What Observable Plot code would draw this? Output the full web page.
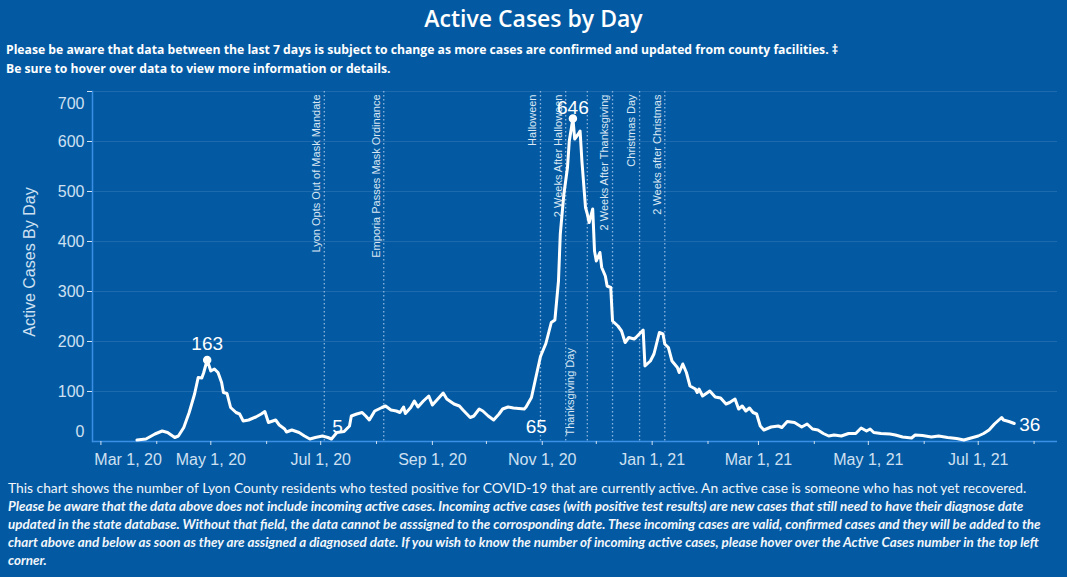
<!DOCTYPE html>
<html>
<head>
<meta charset="utf-8">
<script src="https://cdn.jsdelivr.net/npm/d3@7"></script>
<script src="https://cdn.jsdelivr.net/npm/@observablehq/plot@0.6"></script>
<style>
  html, body { margin: 0; padding: 0; }
  body { background: #035aa3; width: 1067px; height: 577px; overflow: hidden; position: relative; color: #fff; }
  #title { position: absolute; left: 0; top: 0; width: 1067px; height: 36px; line-height: 36px; text-align: center;
           font-family: "Open Sans", sans-serif; font-weight: 600; font-size: 23px; color: #fff; }
  #sub { position: absolute; left: 6px; top: 40px; font-family: "Open Sans", sans-serif; font-weight: 700; font-size: 12.2px;
         line-height: 19px; color: #fff; white-space: nowrap; }
  #chart { position: absolute; left: 0; top: 80px; }
  #ylabel { position: absolute; left: 30px; top: 262px; transform: translate(-50%, -50%) rotate(-90deg);
            font-family: "Liberation Sans", Arial, sans-serif; font-size: 16px; color: #cfe0f1; white-space: nowrap; }
  #foot { position: absolute; left: 8px; top: 479px; font-family: "Lato", sans-serif; font-size: 13.8px; line-height: 18px;
          color: #f2f6fa; white-space: nowrap; }
  #foot .it { font-style: italic; font-weight: 700; font-size: 13.4px; }
</style>
</head>
<body>
<div id="title">Active Cases by Day</div>
<div id="sub">Please be aware that data between the last 7 days is subject to change as more cases are confirmed and updated from county facilities. ‡<br>Be sure to hover over data to view more information or details.</div>
<div id="chart"></div>
<div id="ylabel">Active Cases By Day</div>
<div id="foot">This chart shows the number of Lyon County residents who tested positive for COVID-19 that are currently active. An active case is someone who has not yet recovered.<br><span class="it">Please be aware that the data above does not include incoming active cases. Incoming active cases (with positive test results) are new cases that still need to have their diagnose date<br>updated in the state database. Without that field, the data cannot be asssigned to the corrosponding date. These incoming cases are valid, confirmed cases and they will be added to the<br>chart above and below as soon as they are assigned a diagnosed date. If you wish to know the number of incoming active cases, please hover over the Active Cases number in the top left<br>corner.</span></div>
<script>
// ---- Data ----
const dates = [
  "2020-03-21","2020-03-26","2020-03-31","2020-04-04","2020-04-07","2020-04-11","2020-04-13","2020-04-16","2020-04-19","2020-04-22",
  "2020-04-24","2020-04-26","2020-04-27","2020-04-29","2020-05-01","2020-05-03","2020-05-05","2020-05-07","2020-05-08","2020-05-10",
  "2020-05-12","2020-05-15","2020-05-17","2020-05-19","2020-05-22","2020-05-26","2020-05-29","2020-05-31","2020-06-02","2020-06-06",
  "2020-06-08","2020-06-11","2020-06-12","2020-06-15","2020-06-19","2020-06-22","2020-06-25","2020-06-28","2020-07-02","2020-07-05",
  "2020-07-07","2020-07-10","2020-07-14","2020-07-17","2020-07-18","2020-07-21","2020-07-24","2020-07-26","2020-07-28","2020-07-31",
  "2020-08-04","2020-08-06","2020-08-09","2020-08-12","2020-08-14","2020-08-16","2020-08-17","2020-08-20","2020-08-22","2020-08-24",
  "2020-08-27","2020-08-30","2020-09-01","2020-09-04","2020-09-07","2020-09-09","2020-09-13","2020-09-16","2020-09-18","2020-09-22",
  "2020-09-24","2020-09-27","2020-09-29","2020-10-02","2020-10-05","2020-10-08","2020-10-10","2020-10-13","2020-10-16","2020-10-19",
  "2020-10-22","2020-10-23","2020-10-26","2020-10-28","2020-10-31","2020-11-03","2020-11-06","2020-11-08","2020-11-10","2020-11-11",
  "2020-11-13","2020-11-15","2020-11-16","2020-11-18","2020-11-19","2020-11-21","2020-11-22","2020-11-23","2020-11-25","2020-11-26",
  "2020-11-27","2020-11-29","2020-11-30","2020-12-01","2020-12-03","2020-12-04","2020-12-06","2020-12-07","2020-12-09","2020-12-10",
  "2020-12-13","2020-12-15","2020-12-17","2020-12-19","2020-12-22","2020-12-23","2020-12-27","2020-12-28","2020-12-31","2021-01-02",
  "2021-01-05","2021-01-07","2021-01-08","2021-01-10","2021-01-12","2021-01-15","2021-01-16","2021-01-18","2021-01-20","2021-01-22",
  "2021-01-25","2021-01-26","2021-01-27","2021-01-29","2021-02-02","2021-02-05","2021-02-08","2021-02-11","2021-02-13","2021-02-16",
  "2021-02-18","2021-02-20","2021-02-22","2021-02-24","2021-02-26","2021-02-28","2021-03-02","2021-03-04","2021-03-08","2021-03-12",
  "2021-03-14","2021-03-17","2021-03-21","2021-03-25","2021-03-28","2021-03-31","2021-04-03","2021-04-06","2021-04-09","2021-04-12",
  "2021-04-16","2021-04-20","2021-04-24","2021-04-27","2021-04-30","2021-05-02","2021-05-04","2021-05-08","2021-05-13","2021-05-16",
  "2021-05-20","2021-05-25","2021-05-27","2021-05-31","2021-06-05","2021-06-09","2021-06-14","2021-06-19","2021-06-23","2021-06-27",
  "2021-07-01","2021-07-04","2021-07-07","2021-07-10","2021-07-14","2021-07-15","2021-07-18","2021-07-21"
];
const cases = [
  3, 5, 15, 21, 18, 8, 11, 28, 58, 95,
  128, 127, 137, 163, 141, 145, 138, 118, 98, 96,
  68, 58, 55, 41, 43, 49, 55, 60, 38, 43,
  33, 25, 19, 23, 18, 11, 5, 8, 11, 8,
  5, 18, 20, 31, 51, 55, 58, 51, 43, 61,
  68, 71, 63, 61, 58, 69, 56, 68, 81, 69,
  81, 91, 73, 85, 97, 85, 75, 71, 63, 48,
  51, 65, 61, 51, 43, 55, 65, 69, 67, 66,
  65, 69, 88, 121, 170, 196, 238, 243, 321, 415,
  495, 548, 601, 646, 605, 615, 621, 561, 468, 455,
  438, 465, 381, 361, 378, 348, 331, 311, 308, 241,
  231, 221, 198, 208, 205, 208, 223, 151, 161, 175,
  218, 215, 195, 188, 161, 148, 138, 155, 138, 111,
  105, 98, 105, 91, 101, 89, 87, 75, 78, 85,
  65, 71, 61, 67, 58, 55, 31, 23, 29, 31,
  28, 40, 38, 29, 35, 25, 23, 16, 11, 13,
  11, 16, 16, 27, 21, 25, 18, 16, 15, 13,
  9, 7, 13, 12, 9, 11, 8, 6, 3, 7,
  11, 16, 23, 35, 48, 43, 40, 36
];
const yTicks = [100, 200, 300, 400, 500, 600, 700];
const xMajorTicks = ["2020-03-01","2020-05-01","2020-07-01","2020-09-01","2020-11-01","2021-01-01","2021-03-01","2021-05-01","2021-07-01"];
const xMinorTicks = ["2020-04-01","2020-06-01","2020-08-01","2020-10-01","2020-12-01","2021-02-01","2021-04-01","2021-06-01","2021-08-01"];
const topEventNames = ["Lyon Opts Out of Mask Mandate","Emporia Passes Mask Ordinance","Halloween","2 Weeks After Halloween","2 Weeks After Thanksgiving","Christmas Day","2 Weeks after Christmas"];
const topEventDates = ["2020-07-03","2020-08-05","2020-10-31","2020-11-14","2020-12-10","2020-12-25","2021-01-08"];
const bottomEventNames = ["Thanksgiving Day"];
const bottomEventDates = ["2020-11-26"];
const peakDates = ["2020-04-29","2020-11-18"];
const lowDate = "2020-10-22";
const summerLowDate = "2020-07-07";
const lastDate = "2021-07-21";

// ---- Build tables ----
const series = dates.map((d, i) => ({date: new Date(d), cases: cases[i]}));
const byDate = new Map(series.map(r => [+r.date, r]));
const pick = ds => ds.map(d => byDate.get(+new Date(d)));
const topEvents = topEventNames.map((n, i) => ({name: n, date: new Date(topEventDates[i])}));
const bottomEvents = bottomEventNames.map((n, i) => ({name: n, date: new Date(bottomEventDates[i])}));
const allEventDates = [...topEvents, ...bottomEvents].map(e => e.date);

const fmt = d3.utcFormat("%b %-d, %y");
const firstMajor = new Date(xMajorTicks[0]);
const light = "#cfe0f1";

const chart = Plot.plot({
  width: 1067,
  height: 400,
  marginLeft: 92,
  marginRight: 10,
  marginTop: 11,
  marginBottom: 39,
  style: {background: "transparent", color: light, fontFamily: "'Liberation Sans', Arial, sans-serif", fontSize: "16px"},
  x: {type: "utc", domain: [new Date("2020-02-25T08:00:00Z"), new Date("2021-08-14T00:00:00Z")], axis: null},
  y: {domain: [0, 700], axis: null},
  marks: [
    Plot.gridY(yTicks, {stroke: "#1d6aae", strokeOpacity: 1, strokeWidth: 1}),
    Plot.ruleX(allEventDates, {stroke: "#8db4dc", strokeWidth: 1.3, strokeDasharray: "1.5,2.5"}),
    Plot.ruleY([0], {stroke: "#3a8ee4", strokeWidth: 1.5}),
    Plot.frame({anchor: "left", stroke: "#3a8ee4", strokeWidth: 1.5}),
    // y axis
    Plot.axisY(yTicks, {tickSize: 5, tickPadding: 3, tickFormat: d => d === 700 ? "" : d, label: null, fontSize: 16}),
    Plot.axisY([700], {tickSize: 0, tickPadding: 8, dy: 12, label: null, fontSize: 16}),
    Plot.axisY([0], {tickSize: 0, tickPadding: 8, dy: -10, label: null, fontSize: 16}),
    // x axis
    Plot.axisX(xMajorTicks.map(d => new Date(d)), {tickSize: 4, tickPadding: 8, tickFormat: d => +d === +firstMajor ? "" : fmt(d), label: null, fontSize: 16}),
    Plot.axisX([firstMajor], {tickSize: 0, tickPadding: 12, textAnchor: "start", dx: -6.6, tickFormat: fmt, label: null, fontSize: 16}),
    Plot.axisX(xMinorTicks.map(d => new Date(d)), {tickSize: 3, tickFormat: () => "", label: null}),
    // event labels
    Plot.text(topEvents, {x: "date", frameAnchor: "top", text: "name", rotate: -90, textAnchor: "end", dx: -12, dy: 3, fontSize: 11, fill: "#dbe7f3"}),
    Plot.text(bottomEvents, {x: "date", frameAnchor: "bottom", text: "name", rotate: -90, textAnchor: "start", dx: -13, dy: -6, fontSize: 11, fill: "#dbe7f3"}),
    // the series
    Plot.line(series, {x: "date", y: "cases", stroke: "#ffffff", strokeWidth: 3, strokeLinejoin: "round"}),
    Plot.dot(pick(peakDates), {x: "date", y: "cases", r: 3.5, fill: "#ffffff", stroke: "#ffffff"}),
    Plot.text(pick([peakDates[0]]), {x: "date", y: "cases", text: d => String(d.cases), dy: -16, fontSize: 19, fill: "#ffffff"}),
    Plot.text(pick([peakDates[1]]), {x: "date", y: "cases", text: d => String(d.cases), dy: -11, fontSize: 19, fill: "#ffffff"}),
    Plot.text(pick([lowDate]), {x: "date", y: "cases", text: d => String(d.cases), dx: 12, dy: 18, fontSize: 19, fill: "#ffffff"}),
    Plot.text(pick([summerLowDate]), {x: "date", y: "cases", text: d => String(d.cases), dx: 6, dy: -12, fontSize: 19, fill: "#ffffff"}),
    Plot.text(pick([lastDate]), {x: "date", y: "cases", text: d => String(d.cases), textAnchor: "start", dx: 5, dy: 1, fontSize: 19, fill: "#ffffff"})
  ]
});
document.getElementById("chart").appendChild(chart);
</script>
</body>
</html>
